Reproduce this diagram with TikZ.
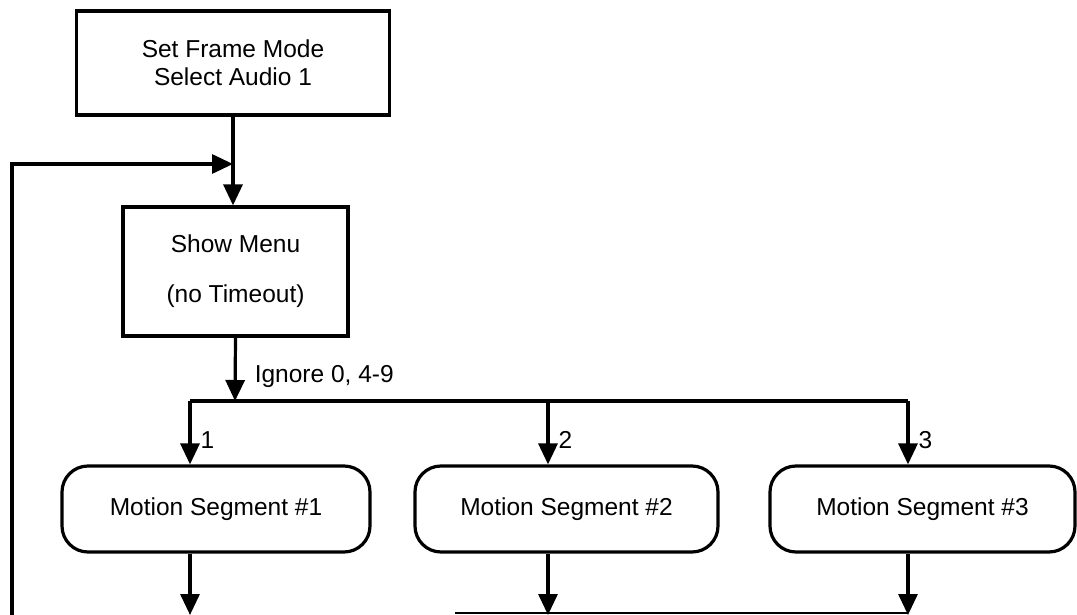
\documentclass[tikz,border=0pt]{standalone}
\usepackage{fontspec}
\setmainfont{Liberation Sans}
\usetikzlibrary{arrows.meta}

\begin{document}
\begin{tikzpicture}[x=1pt, y=-1pt, line width=3.2pt,
  every node/.style={font=\fontsize{24.5}{28}\selectfont},
  blk/.style={draw, rectangle, align=center, inner sep=0pt},
  seg/.style={draw, rectangle, rounded corners=26pt, inner sep=0pt, minimum height=86pt},
  arr/.style={-{Triangle[length=21pt,width=19pt]}},
  lbl/.style={anchor=west, inner sep=0pt}]
\useasboundingbox (0,0) rectangle (1077,615);
  \node[blk, minimum width=313pt, minimum height=104pt] (setmode) at (233, 63) {Set Frame Mode\\Select Audio 1}; %start
  \node[blk, minimum width=225pt, minimum height=129pt] (showmenu) at (235.5, 271.5) {Show Menu\\[22pt](no Timeout)}; %menu
  \node[seg, minimum width=308pt] (motion1) at (216, 509) {Motion Segment \#1}; %seg 1
  \node[seg, minimum width=303pt] (motion2) at (566.5, 509) {Motion Segment \#2}; %seg 2
  \node[seg, minimum width=305pt] (motion3) at (922.5, 509) {Motion Segment \#3}; %seg 3
  % loop back to menu
  \coordinate (loopin) at (233, 164);
  \coordinate (loopbot) at (12, 615);
  \draw[arr] (setmode.south) -- (setmode.south |- showmenu.north);
  \draw[arr] (loopbot) |- (loopin);
  % branch on key
  \coordinate (branch) at (235, 401);
  \coordinate (key1) at (190, 401);
  \coordinate (key2) at (548, 401);
  \coordinate (key3) at (908, 401);
  \draw[arr] (showmenu.south) -- (branch) node[lbl, pos=0.62, xshift=18pt] (ignore) {Ignore 0, 4-9};
  \draw (key1) -- (key3);
  \draw[arr] (key1) -- (key1 |- motion1.north) node[lbl, pos=0.61, xshift=9pt] (lab1) {1};
  \draw[arr] (key2) -- (key2 |- motion2.north) node[lbl, pos=0.61, xshift=9pt] (lab2) {2};
  \draw[arr] (key3) -- (key3 |- motion3.north) node[lbl, pos=0.61, xshift=9pt] (lab3) {3};
  % exits
  \coordinate (out1) at (190, 615);
  \coordinate (out2) at (548, 615);
  \coordinate (out3) at (908, 615);
  \draw[arr] (out1 |- motion1.south) -- (out1);
  \draw[arr] (out2 |- motion2.south) -- (out2);
  \draw[arr] (out3 |- motion3.south) -- (out3);
  \draw[line width=1.5pt] (455, 613) -- (out3 |- 0,613);
\end{tikzpicture}
\end{document}
